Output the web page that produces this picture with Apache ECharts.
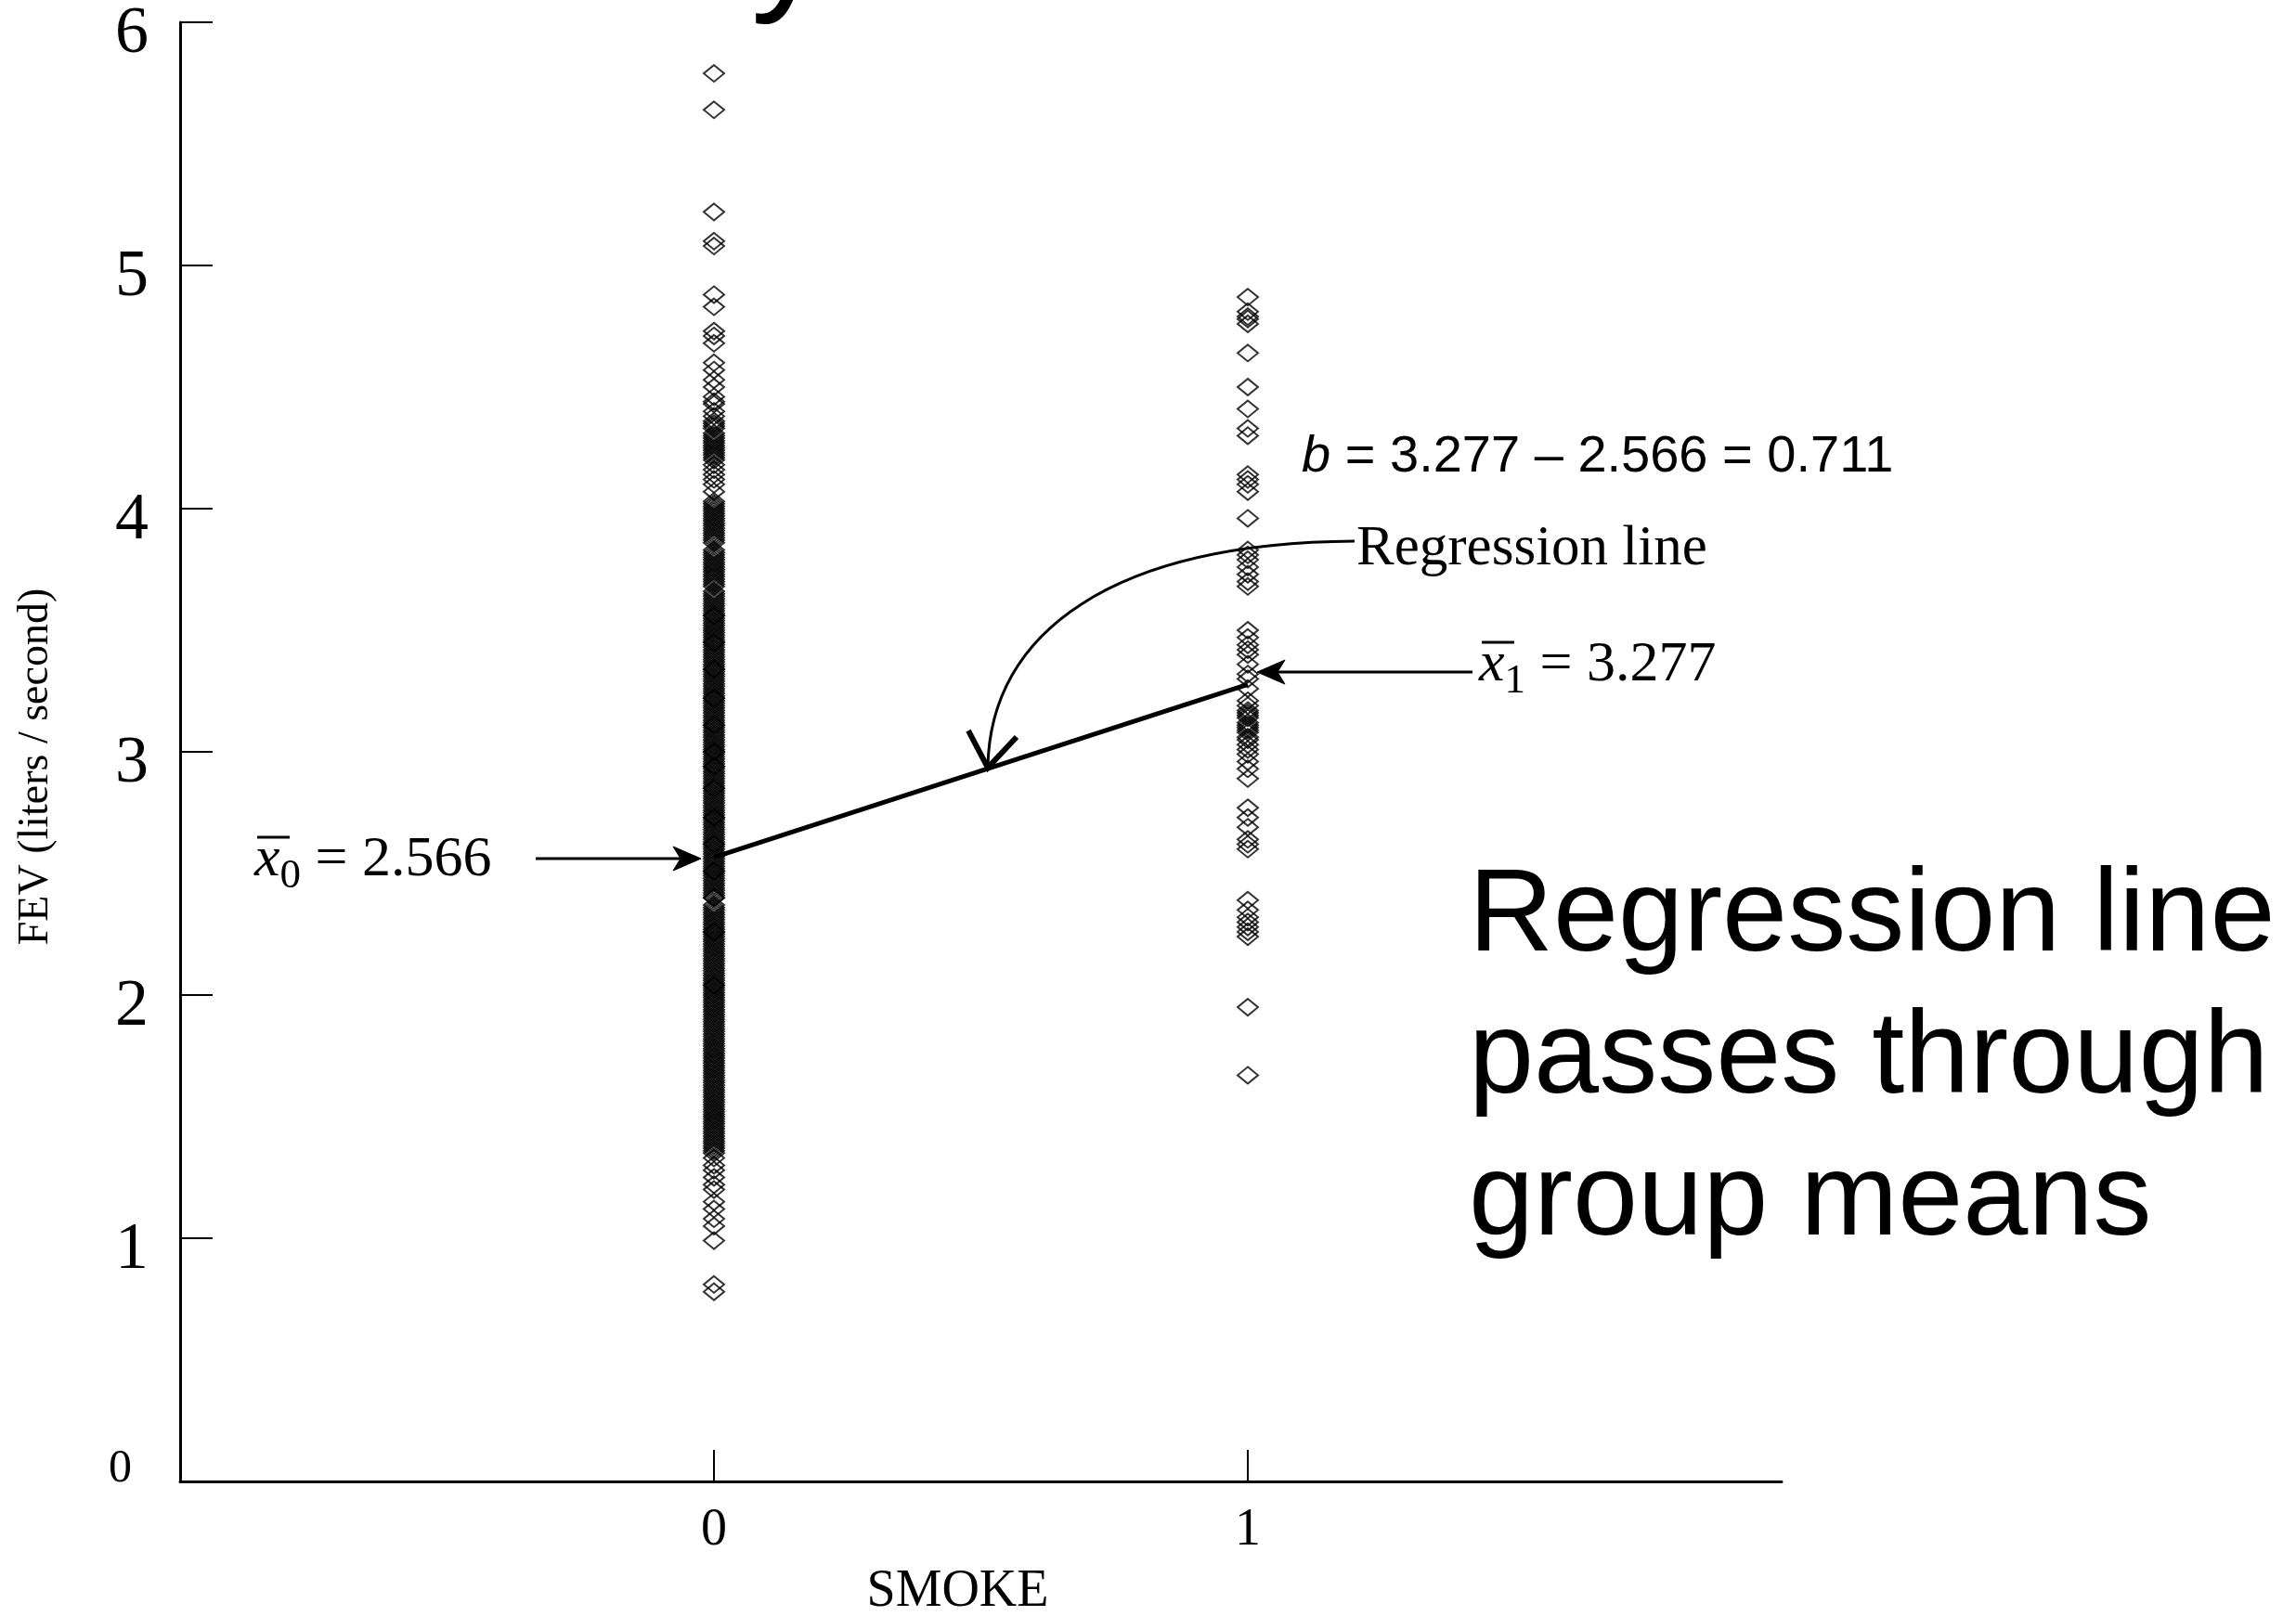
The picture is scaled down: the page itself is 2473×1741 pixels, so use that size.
<!DOCTYPE html>
<html><head><meta charset="utf-8">
<script src="https://cdn.jsdelivr.net/npm/echarts@6/dist/echarts.min.js"></script>
<style>html,body{margin:0;padding:0;background:#fff;}#c{width:2473px;height:1741px;}</style>
</head><body><div id="c"></div>
<script>
// ---- data ----
const smokeCategories = [0, 1];
const xTickValues = [0, 1];
const yTickValues = [0, 1, 2, 3, 4, 5, 6];
const groupMeans = [2.566, 3.277];
const slopeText = 'b = 3.277 – 2.566 = 0.711';

// FEV of non-smokers (SMOKE = 0), read from the column
const nonSmokerFEV = [
  5.79,5.64,5.22,5.10,5.08,4.88,4.83,4.73,4.71,4.68,4.60,4.57,4.53,4.50,4.46,4.44,4.43,4.40,4.38,
  4.36,4.35,4.34,4.33,4.31,4.30,4.29,4.28,4.27,4.26,4.25,4.24,4.23,4.22,4.21,4.20,
  4.18,4.16,4.14,4.12,4.10,4.07,4.03,4.02,4.01,4.00,3.99,3.98,3.97,3.96,3.95,
  3.94,3.93,3.92,3.91,3.90,3.89,3.88,3.87,3.86,3.83,3.82,3.81,3.80,3.79,3.78,3.77,3.76,
  3.75,3.74,3.73,3.72,3.71,3.70,3.69,3.68,3.66,3.65,3.64,3.63,3.62,3.61,
  3.60,3.59,3.58,3.57,3.56,3.56,3.55,3.54,3.53,3.52,3.51,3.50,
  3.49,3.48,3.47,3.46,3.45,3.45,3.44,3.43,3.42,3.41,3.40,
  3.39,3.38,3.37,3.36,3.35,3.34,3.34,3.33,3.32,3.31,3.30,
  3.29,3.28,3.27,3.26,3.25,3.24,3.23,3.22,3.22,3.21,3.20,
  3.19,3.18,3.17,3.16,3.15,3.14,3.13,3.12,3.11,3.11,3.10,
  3.09,3.08,3.07,3.06,3.05,3.04,3.03,3.02,3.01,3.00,3.00,
  2.99,2.98,2.97,2.96,2.95,2.94,2.94,2.93,2.92,2.91,2.90,
  2.89,2.88,2.87,2.86,2.85,2.85,2.84,2.83,2.82,2.81,2.80,
  2.79,2.78,2.77,2.76,2.75,2.74,2.73,2.73,2.72,2.71,2.70,
  2.69,2.68,2.67,2.66,2.65,2.64,2.63,2.62,2.62,2.61,2.60,
  2.59,2.58,2.57,2.56,2.55,2.54,2.53,2.52,2.51,2.51,2.50,
  2.49,2.48,2.47,2.46,2.45,2.44,2.43,2.42,2.41,2.40,2.40,
  2.37,2.36,2.35,2.34,2.33,2.32,2.31,2.30,
  2.29,2.28,2.27,2.26,2.26,2.25,2.24,2.23,2.22,2.21,2.20,
  2.19,2.18,2.17,2.16,2.15,2.14,2.13,2.12,2.11,2.10,
  2.09,2.08,2.07,2.06,2.05,2.04,2.04,2.03,2.02,2.01,2.00,
  1.99,1.98,1.97,1.96,1.95,1.94,1.93,1.92,1.91,1.90,
  1.89,1.88,1.87,1.86,1.85,1.84,1.83,1.82,1.81,1.80,
  1.79,1.78,1.77,1.76,1.75,1.74,1.73,1.72,1.71,1.70,
  1.69,1.68,1.67,1.66,1.65,1.64,1.63,1.62,1.61,1.60,
  1.59,1.58,1.57,1.56,1.55,1.54,1.53,1.52,1.51,1.50,
  1.49,1.48,1.47,1.46,1.45,1.44,1.43,1.42,1.41,1.40,
  1.39,1.38,1.37,1.36,1.35,
  1.33,1.30,1.28,1.25,1.22,1.20,1.15,1.12,1.08,1.05,0.99,0.81,0.78
];

// FEV of smokers (SMOKE = 1)
const smokerFEV = [
  4.87,4.81,4.79,4.78,4.76,4.64,4.50,4.41,4.33,4.30,4.14,4.12,4.10,4.07,3.96,
  3.83,3.81,3.79,3.76,3.73,3.70,3.68,3.50,3.47,3.44,3.42,3.40,3.36,3.32,3.30,3.26,
  3.21,3.19,3.17,3.16,3.15,3.14,3.12,3.11,3.10,3.09,3.08,3.06,3.05,3.03,3.01,2.99,
  2.96,2.93,2.89,2.77,2.73,2.69,2.64,2.62,2.60,2.39,2.35,2.32,2.30,2.28,2.26,2.24,
  1.95,1.67
];

// annotation anchors in data units [SMOKE, FEV]
const slopeNoteAt = [1.1009, 4.2115];
const regNoteAt = [1.2035, 3.834];
const mean1NoteAt = [1.433, 3.3546];
const mean0NoteAt = [-0.8609, 2.553];
const arrow0 = { from: [-0.3339, 2.561], to: [-0.0243, 2.561] };
const arrow1 = { from: [1.4209, 3.328], to: [1.0174, 3.328] };
const curveArrow = { p0: [1.200, 3.866], c1: [0.7496, 3.859], c2: [0.5165, 3.496], p3: [0.513, 2.935] };

// ---- chart ----
const serif = '"Liberation Serif", "Times New Roman", serif';
const sans = '"Liberation Sans", Arial, sans-serif';
const chart = echarts.init(document.getElementById('c'));

const diamondStyle = { color: 'rgba(0,0,0,0)', borderColor: '#000', borderWidth: 2 };

chart.setOption({
  animation: false,
  backgroundColor: '#fff',
  grid: { left: 194, right: 554, top: 24, bottom: 145, containLabel: false, outerBoundsMode: 'none' },
  xAxis: {
    type: 'value', min: -1, max: 2, interval: 1,
    axisLine: { show: true, onZero: false, lineStyle: { color: '#000', width: 3 } },
    axisTick: { show: true, inside: true, length: 34, customValues: xTickValues, lineStyle: { color: '#000', width: 2 } },
    axisLabel: { customValues: xTickValues, margin: 25, fontFamily: serif, fontSize: 56, color: '#000' },
    splitLine: { show: false },
    name: 'SMOKE', nameLocation: 'middle', nameGap: 91,
    nameTextStyle: { fontFamily: serif, fontSize: 56, color: '#000', padding: [0, 50, 0, 0] }
  },
  yAxis: {
    type: 'value', min: 0, max: 6, interval: 1,
    axisLine: { show: true, onZero: false, lineStyle: { color: '#000', width: 3 } },
    axisTick: { show: true, inside: true, length: 35, lineStyle: { color: '#000', width: 2 } },
    axisLabel: {
      margin: 34,
      formatter: v => (v === 0 ? '{z|0}' : '{n|' + v + '}'),
      rich: {
        n: { fontFamily: serif, fontSize: 72, color: '#000', padding: [26, 0, 0, 0] },
        z: { fontFamily: serif, fontSize: 50, color: '#000', padding: [0, 18, 26, 0] }
      }
    },
    splitLine: { show: false },
    name: 'FEV (liters / second)', nameLocation: 'middle', nameRotate: 90, nameGap: 132,
    nameTextStyle: { fontFamily: serif, fontSize: 46, color: '#000', padding: [0, 32, 0, 0] }
  },
  series: [
    { name: 'SMOKE = 0', type: 'scatter', data: nonSmokerFEV.map(v => [smokeCategories[0], v]),
      symbol: 'diamond', symbolSize: [22, 18], itemStyle: diamondStyle, silent: true, z: 2 },
    { name: 'SMOKE = 1', type: 'scatter', data: smokerFEV.map(v => [smokeCategories[1], v]),
      symbol: 'diamond', symbolSize: [22, 18], itemStyle: diamondStyle, silent: true, z: 2 },
    { name: 'Regression line', type: 'line',
      data: [[smokeCategories[0], groupMeans[0]], [smokeCategories[1], groupMeans[1]]],
      symbol: 'none', lineStyle: { color: '#000', width: 5 }, silent: true, z: 5 }
  ]
});

const P = p => chart.convertToPixel({ gridIndex: 0 }, p);

function straightArrow(a, dir) {
  const t = P(a.to), f = P(a.from);
  const back = t[0] - 22 * dir;
  return [
    { type: 'line', shape: { x1: f[0], y1: f[1], x2: back, y2: t[1] }, style: { stroke: '#000', lineWidth: 3 }, z: 10 },
    { type: 'polygon', shape: { points: [[t[0], t[1]], [t[0] - 30 * dir, t[1] - 13], [back, t[1]], [t[0] - 30 * dir, t[1] + 13]] },
      style: { fill: '#000', stroke: '#000', lineWidth: 1 }, z: 10 }
  ];
}

function meanLabel(at, sub, value) {
  const p = P(at);
  return [
    { type: 'text', x: p[0], y: p[1], z: 10,
      style: {
        text: '{x|x}{s|' + sub + '}{t| = ' + value + '}',
        align: 'left', verticalAlign: 'middle', textAlign: 'left', textVerticalAlign: 'middle',
        rich: {
          x: { fontFamily: serif, fontStyle: 'italic', fontSize: 62, lineHeight: 80, fill: '#000', color: '#000' },
          s: { fontFamily: serif, fontSize: 45, lineHeight: 52, verticalAlign: 'bottom', fill: '#000', color: '#000' },
          t: { fontFamily: serif, fontSize: 62, lineHeight: 80, fill: '#000', color: '#000' }
        }
      } },
    { type: 'line', z: 10, shape: { x1: p[0] + 3, y1: p[1] - 25, x2: p[0] + 38, y2: p[1] - 25 },
      style: { stroke: '#000', lineWidth: 3 } }
  ];
}

const c0 = P(curveArrow.p0), c1 = P(curveArrow.c1), c2 = P(curveArrow.c2), c3 = P(curveArrow.p3);
const sN = P(slopeNoteAt), rN = P(regNoteAt);

const elements = [
  // slide title (mostly above the visible area)
  { type: 'text', x: 320, y: -54, z: 10,
    style: { text: 'Dummy Variable SMOKE', fontFamily: sans, fontSize: 166, fill: '#000',
      align: 'left', verticalAlign: 'middle', textAlign: 'left', textVerticalAlign: 'middle' } },
  // slope note
  { type: 'text', x: sN[0], y: sN[1], z: 10,
    style: {
      text: '{i|b}{r|' + slopeText.slice(1) + '}',
      align: 'left', verticalAlign: 'middle', textAlign: 'left', textVerticalAlign: 'middle',
      rich: {
        i: { fontFamily: sans, fontStyle: 'italic', fontSize: 56, fill: '#000', color: '#000' },
        r: { fontFamily: sans, fontSize: 56, fill: '#000', color: '#000' }
      }
    } },
  // "Regression line" label
  { type: 'text', x: rN[0], y: rN[1], z: 10,
    style: { text: 'Regression line', fontFamily: serif, fontSize: 61, fill: '#000',
      align: 'left', verticalAlign: 'middle', textAlign: 'left', textVerticalAlign: 'middle' } },
  // curved arrow
  { type: 'bezierCurve', z: 10,
    shape: { x1: c0[0], y1: c0[1], cpx1: c1[0], cpy1: c1[1], cpx2: c2[0], cpy2: c2[1], x2: c3[0], y2: c3[1] },
    style: { stroke: '#000', lineWidth: 3, fill: 'none' } },
  { type: 'polyline', z: 10,
    shape: { points: [[c3[0] - 21, c3[1] - 40], [c3[0], c3[1]], [c3[0] + 31, c3[1] - 33]] },
    style: { stroke: '#000', lineWidth: 6, fill: 'none', lineJoin: 'miter' } },
  ...straightArrow(arrow0, 1),
  ...straightArrow(arrow1, -1),
  ...meanLabel(mean0NoteAt, '0', groupMeans[0].toFixed(3)),
  ...meanLabel(mean1NoteAt, '1', groupMeans[1].toFixed(3)),
  // big slide text
  { type: 'text', x: 1582, y: 913, z: 10,
    style: { text: 'Regression line\npasses through\ngroup means', fontFamily: sans, fontSize: 126, lineHeight: 153,
      fill: '#000', align: 'left', verticalAlign: 'top', textAlign: 'left', textVerticalAlign: 'top' } }
];

chart.setOption({ graphic: { elements } });
</script>
</body></html>
